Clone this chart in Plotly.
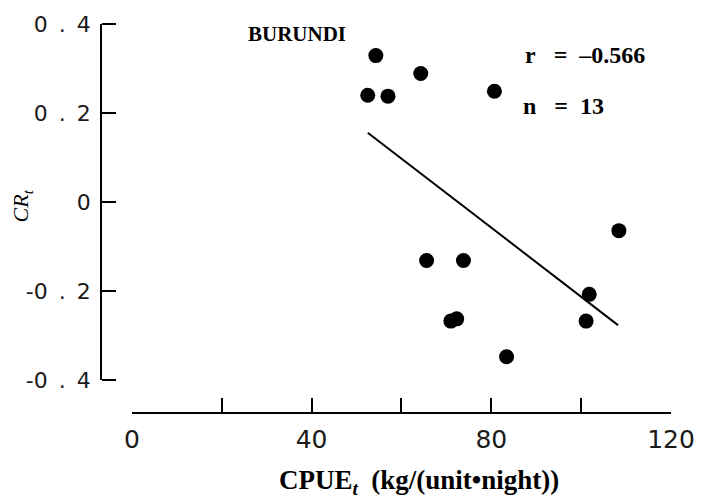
import plotly.graph_objects as go

# Data
cpue = [52.5, 54.3, 57.0, 64.3, 80.7, 65.6, 73.8, 71.0, 72.3, 83.4, 101.8, 101.1, 108.4]
cr = [0.240, 0.329, 0.238, 0.289, 0.249, -0.131, -0.131, -0.267, -0.262, -0.347, -0.207, -0.267, -0.064]

fit_x = [52.5, 108.2]
fit_y = [0.156, -0.276]

x_tickvals = [0, 40, 80, 120]
x_ticktext = ["0", "40", "80", "120"]
x_minor_ticks = [20, 60, 100]
y_tickvals = [-0.4, -0.2, 0, 0.2, 0.4]
y_ticktext = ["-0\u2002.\u20024", "-0\u2002.\u20022", "0", "0\u2002.\u20022", "0\u2002.\u20024"]

serif = "Liberation Serif"
tick_color = "#1a1a1a"

W, H = 707, 499
L, R, T, B = 100, 34, 20, 87
pw = W - L - R
ph = H - T - B

y_dom_lo = (412 - 380) / ph
y_lo = -0.4 - (0.8 / 360) * (412 - 380)

fig = go.Figure()
fig.add_trace(go.Scatter(x=fit_x, y=fit_y, mode="lines", xaxis="x", yaxis="y",
                         line=dict(color="black", width=2), showlegend=False,
                         hoverinfo="skip"))
fig.add_trace(go.Scatter(x=cpue, y=cr, mode="markers", xaxis="x", yaxis="y",
                         marker=dict(color="black", size=15, line=dict(width=0)),
                         showlegend=False))
fig.add_trace(go.Scatter(x=[None], y=[None], mode="markers", xaxis="x2", yaxis="y2",
                         showlegend=False, hoverinfo="skip"))

fig.update_layout(
    width=W, height=H,
    margin=dict(l=L, r=R, t=T, b=B),
    paper_bgcolor="white", plot_bgcolor="rgba(0,0,0,0)",
    xaxis=dict(
        domain=[(132 - L) / pw, 1],
        range=[0, 120], anchor="y",
        tickvals=x_tickvals, ticktext=x_ticktext,
        ticks="inside", ticklen=14, tickwidth=2, tickcolor="black",
        minor=dict(tickvals=x_minor_ticks, ticks="inside", ticklen=14,
                   tickwidth=2, tickcolor="black", showgrid=False),
        showline=True, linecolor="black", linewidth=2,
        showgrid=False, zeroline=False,
        tickfont=dict(family="DejaVu Sans", size=25, color=tick_color),
        ticklabelstandoff=4,
    ),
    yaxis=dict(
        domain=[0, 1], range=[y_lo, 0.4], anchor="x",
        visible=False, showgrid=False, zeroline=False,
    ),
    xaxis2=dict(domain=[0, 0.0005], range=[0, 1], anchor="y2",
                visible=False, showgrid=False, zeroline=False),
    yaxis2=dict(
        domain=[y_dom_lo, 1],
        range=[-0.4, 0.4], anchor="x2", side="right",
        tickvals=y_tickvals, ticktext=y_ticktext,
        ticks="outside", ticklen=14, tickwidth=2, tickcolor="black",
        ticklabelposition="inside", ticklabeloverflow="allow",
        ticklabelstandoff=11,
        showline=True, linecolor="black", linewidth=2,
        showgrid=False, zeroline=False,
        tickfont=dict(family="DejaVu Sans", size=22, color=tick_color),
    ),
    annotations=[
        dict(text="<b>BURUNDI</b>", xref="paper", yref="paper",
             x=(247 - L) / pw, y=1 - (30 - T) / ph, xanchor="left", yanchor="middle",
             showarrow=False, font=dict(family=serif, size=21, color="black")),
        dict(text="<b>r\u00a0\u00a0\u00a0=\u00a0\u00a0\u20130.566</b>", xref="paper", yref="paper",
             x=(524 - L) / pw, y=1 - (51 - T) / ph, xanchor="left", yanchor="middle",
             showarrow=False, font=dict(family=serif, size=24, color="black")),
        dict(text="<b>n\u00a0\u00a0\u00a0=\u00a0\u00a013</b>", xref="paper", yref="paper",
             x=(522 - L) / pw, y=1 - (103 - T) / ph, xanchor="left", yanchor="middle",
             showarrow=False, font=dict(family=serif, size=24, color="black")),
        dict(text="<i>CR<sub>t</sub></i>", xref="paper", yref="paper",
             x=(22 - L) / pw, y=1 - (204 - T) / ph, xanchor="center", yanchor="middle",
             textangle=-90, showarrow=False,
             font=dict(family=serif, size=22, color="black")),
        dict(text="<b>CPUE<sub><i>t</i></sub>  (kg/(unit\u2022night))</b>", xref="paper", yref="paper",
             x=(420 - L) / pw, y=-(483 - 412) / ph, xanchor="center", yanchor="middle",
             showarrow=False, font=dict(family=serif, size=27, color="black")),
    ],
)

fig.write_html("out.html")
